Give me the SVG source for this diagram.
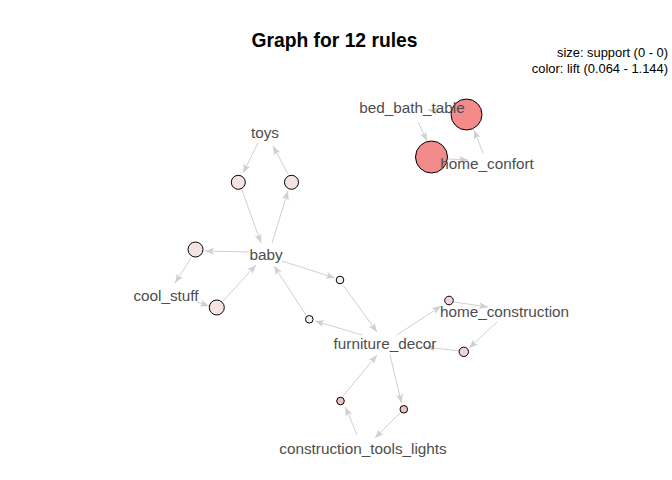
<svg xmlns="http://www.w3.org/2000/svg" width="672" height="480" viewBox="0 0 672 480">
<style>
.e{stroke:#D0D0D0;stroke-width:1;fill:none;marker-end:url(#ah)}
.n{stroke:#000;stroke-width:1}
.lbl{font-family:"Liberation Sans",Arial,sans-serif;font-size:15.3px;fill:#4D4D4D;text-anchor:middle}
.leg{font-family:"Liberation Sans",Arial,sans-serif;font-size:12.9px;fill:#000;text-anchor:end}
.title{font-family:"Liberation Sans",Arial,sans-serif;font-size:19.3px;font-weight:bold;fill:#000;text-anchor:middle}
</style>
<defs>
<marker id="ah" markerUnits="userSpaceOnUse" markerWidth="10" markerHeight="8" refX="9" refY="3.5" orient="auto">
<path d="M0,0 L9,3.5 L0,7 L2,3.5 Z" fill="#D0D0D0"/>
</marker>
</defs>
<rect width="672" height="480" fill="#FFFFFF"/>
<text class="title" x="334.5" y="47">Graph for 12 rules</text>
<text class="leg" x="668" y="57">size: support (0 - 0)</text>
<text class="leg" x="668" y="73">color: lift (0.064 - 1.144)</text>
<g id="connectors">
<line class="e" x1="258" y1="143" x2="243" y2="173"/>
<line class="e" x1="242" y1="190" x2="261" y2="243"/>
<line class="e" x1="272" y1="243" x2="288" y2="191"/>
<line class="e" x1="288" y1="174" x2="273" y2="146"/>
<line class="e" x1="249" y1="252" x2="205" y2="251"/>
<line class="e" x1="191" y1="258" x2="175" y2="283"/>
<line class="e" x1="197" y1="302" x2="209" y2="306"/>
<line class="e" x1="223" y1="301" x2="256" y2="265"/>
<line class="e" x1="282" y1="261" x2="335" y2="278"/>
<line class="e" x1="343" y1="285" x2="377" y2="332"/>
<line class="e" x1="362" y1="335" x2="315" y2="321"/>
<line class="e" x1="306" y1="315" x2="274" y2="266"/>
<line class="e" x1="397" y1="335" x2="441" y2="306"/>
<line class="e" x1="454" y1="302" x2="488" y2="307"/>
<line class="e" x1="497" y1="322" x2="469" y2="348"/>
<line class="e" x1="459" y1="351" x2="426" y2="347"/>
<line class="e" x1="390" y1="355" x2="401.5" y2="403"/>
<line class="e" x1="400" y1="413" x2="375" y2="438"/>
<line class="e" x1="357" y1="435" x2="345.5" y2="407"/>
<line class="e" x1="343" y1="396" x2="377" y2="355"/>
<line class="e" x1="450" y1="113" x2="428" y2="110"/>
<line class="e" x1="418" y1="122" x2="427" y2="141"/>
<line class="e" x1="448" y1="159" x2="468" y2="160"/>
<line class="e" x1="483" y1="153" x2="474" y2="130"/>
</g>
<g id="rule-nodes">
<circle id="r1" class="n" cx="466.5" cy="114.5" r="15.5" fill="#F38B8B"/>
<circle id="r2" class="n" cx="431.5" cy="157" r="16" fill="#F38B8B"/>
<circle id="r3" class="n" cx="238.3" cy="182.3" r="7" fill="#F3E3E3"/>
<circle id="r4" class="n" cx="291.5" cy="182.3" r="7" fill="#F3E3E3"/>
<circle id="r5" class="n" cx="195.5" cy="249.5" r="7.5" fill="#F3E3E3"/>
<circle id="r6" class="n" cx="216.8" cy="307.5" r="7.5" fill="#F3E3E3"/>
<circle id="r7" class="n" cx="340" cy="280" r="3.8" fill="#F8EEEE"/>
<circle id="r8" class="n" cx="309.3" cy="319.3" r="3.8" fill="#F8EEEE"/>
<circle id="r9" class="n" cx="449" cy="300.5" r="4.3" fill="#F2D4D4"/>
<circle id="r10" class="n" cx="463.8" cy="351.8" r="4.7" fill="#F2D4D4"/>
<circle id="r11" class="n" cx="340.5" cy="401" r="3.8" fill="#F0C0C0"/>
<circle id="r12" class="n" cx="403.8" cy="409.3" r="3.8" fill="#F0C0C0"/>
</g>
<g id="item-toys"><text class="lbl" x="265" y="138">toys</text></g>
<g id="item-baby"><text class="lbl" x="266" y="260">baby</text></g>
<g id="item-cool_stuff"><text class="lbl" x="166" y="301">cool_stuff</text></g>
<g id="item-bed_bath_table"><text class="lbl" x="412" y="113">bed_bath_table</text></g>
<g id="item-home_confort"><text class="lbl" x="487" y="169">home_confort</text></g>
<g id="item-furniture_decor"><text class="lbl" x="385" y="349">furniture_decor</text></g>
<g id="item-home_construction"><text class="lbl" x="504.5" y="317">home_construction</text></g>
<g id="item-construction_tools_lights"><text class="lbl" x="363" y="454">construction_tools_lights</text></g>
</svg>
